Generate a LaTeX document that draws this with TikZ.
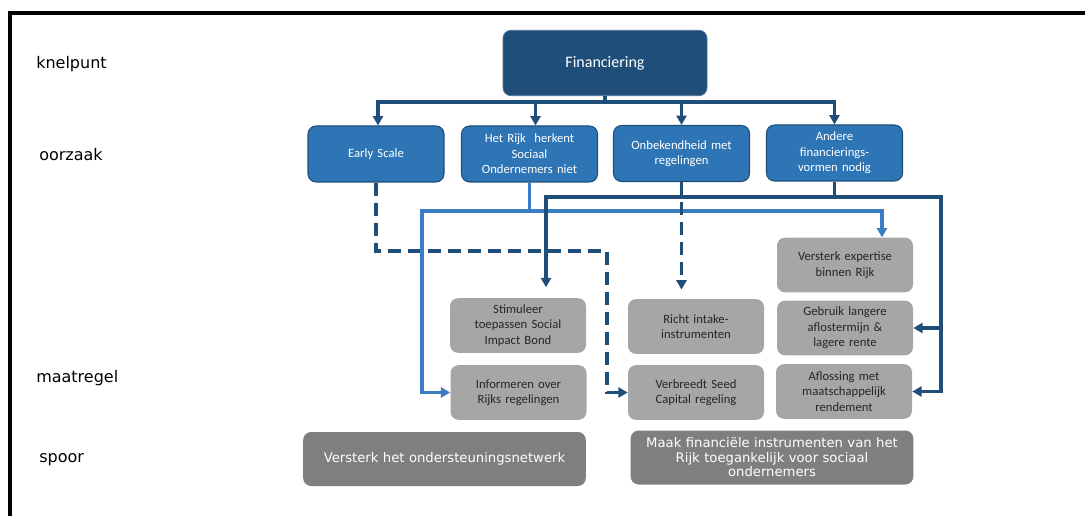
\documentclass[tikz,border=0pt]{standalone}
\usepackage{fontspec}
\setmainfont{Carlito}
\newfontfamily\dejavu{DejaVu Sans}
\usetikzlibrary{arrows.meta}
\definecolor{dkblue}{HTML}{1F4E79}
\definecolor{mdblue}{HTML}{2E75B6}
\definecolor{ltblue}{HTML}{3A7DC2}
\definecolor{boxgrey}{HTML}{A6A6A6}
\definecolor{spoorgrey}{HTML}{7F7F7F}
\tikzset{
  box/.style={rounded corners=6pt,align=center,inner sep=2pt,font=\fontsize{9.5}{11.6}\selectfont},
  knelbox/.style={box,fill=dkblue,draw=dkblue!80!white,line width=0.6pt,text=white,
    minimum width=153pt,minimum height=49pt,font=\fontsize{12}{14}\selectfont},
  oorzbox/.style={box,fill=mdblue,draw=dkblue,line width=0.8pt,text=white,
    minimum width=102pt,minimum height=42pt,text width=96pt},
  maatbox/.style={box,fill=boxgrey,text=black!85,minimum width=102pt,minimum height=41pt,text width=96pt},
  spoorbox/.style={box,fill=spoorgrey,text=white,minimum width=212pt,minimum height=40.5pt,
    text width=205pt,font=\dejavu\fontsize{9.9}{10.9}\selectfont},
  lbl/.style={anchor=west,inner sep=0pt,font=\dejavu\fontsize{12}{14}\selectfont},
  tip/.style={-{Triangle[length=7pt,width=7.5pt]}},
  dkline/.style={draw=dkblue,line width=2.3pt},
  ltline/.style={draw=ltblue,line width=2.3pt},
  dkdash/.style={draw=dkblue,line width=2.3pt,dash pattern=on 10pt off 5pt},
}
\begin{document}
\begin{tikzpicture}[x=0.75pt,y=-0.75pt]
\useasboundingbox (0,0) rectangle (1085,516);
\draw[line width=2.6pt] (10,516)--(10,13)--(1085,13);
%
\node[lbl] (kn) at (36,64) {knelpunt};
\node[lbl] (oo) at (39,155) {oorzaak};
\node[lbl] (ma) at (36,378) {maatregel};
\node[lbl] (sp) at (39,460) {spoor};
%
\node[knelbox] (fin) at (605,63) {Financiering};
\node[oorzbox] (es) at (376,154) {Early Scale};
\node[oorzbox] (rijk) at (529.5,154) {Het Rijk~~herkent\\Sociaal\\Ondernemers niet};
\node[oorzbox] (onb) at (681.5,153.5) {Onbekendheid met\\regelingen};
\node[oorzbox] (and) at (834.5,153) {Andere\\financierings-\\vormen nodig};
%
\node[maatbox] (stim) at (518,325.5) {Stimuleer\\toepassen Social\\Impact Bond};
\node[maatbox] (inf) at (518.5,392.5) {Informeren over\\Rijks regelingen};
\node[maatbox] (richt) at (696,326.5) {Richt intake-\\instrumenten};
\node[maatbox] (seed) at (696,392.5) {Verbreedt Seed\\Capital regeling};
\node[maatbox] (vex) at (845,265) {Versterk expertise\\binnen Rijk};
\node[maatbox] (geb) at (845,328) {Gebruik langere\\aflostermijn \&\\lagere rente};
\node[maatbox] (afl) at (844,391.5) {Aflossing met\\maatschappelijk\\rendement};
%
\node[spoorbox] (vst) at (444.5,459) {Versterk het ondersteuningsnetwerk};
\node[spoorbox] (maak) at (772,457.5) {Maak financiële instrumenten van het\\Rijk toegankelijk voor sociaal\\ondernemers};
%
\coordinate (bus) at (605,102);
\coordinate (esk) at (607,251);
\coordinate (rl) at (422,211);
\coordinate (rr) at (882,211);
\coordinate (al) at (546,197);
\coordinate (ar) at (941,197);
%
\draw[dkline] (fin.south)--(bus);
\foreach \n/\dx in {es/1.5,rijk/4.5,onb/0,and/0}
  \draw[dkline,tip] (bus) -| ([xshift=\dx pt]\n.north);
%
\draw[dkdash,tip] (es.south) |- (esk) |- (seed.west);
\draw[ltline,tip] (rijk.south) |- (rl) |- (inf.west);
\draw[ltline,tip] (rijk.south) |- (rr) -- (rr |- vex.north);
\draw[dkdash,tip,shorten >=7pt] (onb.south) -- (onb.south |- richt.north);
\draw[dkline,tip,shorten >=8pt] (and.south) |- (al) -- (al |- stim.north);
\draw[dkline,tip] (and.south) |- (ar) |- (afl.east);
\draw[dkline,tip] (ar |- geb.east) -- (geb.east);
\end{tikzpicture}
\end{document}
